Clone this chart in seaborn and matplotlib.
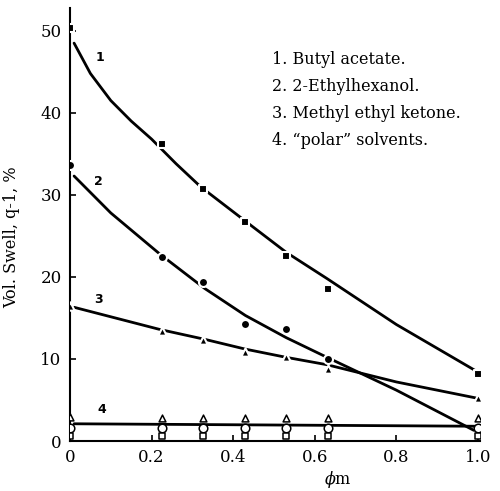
import numpy as np
import pandas as pd
import seaborn as sns
import matplotlib.pyplot as plt

# measured points (phi_m, swell %)
phi = [0, 0.225, 0.325, 0.43, 0.53, 0.633, 1.0]
butyl = [50.3, 36.2, 30.7, 26.7, 22.6, 18.5, 8.2]
phi_eh = [0, 0.225, 0.325, 0.43, 0.53, 0.633]
ethylhex = [33.6, 22.4, 19.4, 14.3, 13.7, 10.0]
mek = [16.5, 13.4, 12.3, 10.9, 10.3, 8.8, 5.3]
polar_tri = [2.9, 2.8, 2.8, 2.8, 2.8, 2.8, 2.8]
polar_circ = [1.6, 1.6, 1.6, 1.6, 1.6, 1.6, 1.6]
polar_sq = [0.6, 0.6, 0.6, 0.6, 0.6, 0.6, 0.6]

# drawn curves
fit1_x = [0.01, 0.05, 0.1, 0.15, 0.2, 0.26, 0.32, 0.43, 0.53, 0.63, 0.8, 1.0]
fit1_y = [48.5, 44.8, 41.5, 39.0, 36.8, 33.8, 31.0, 26.8, 23.0, 19.8, 14.2, 8.4]
fit2_x = [0.01, 0.1, 0.22, 0.33, 0.43, 0.53, 0.63, 0.8, 0.99]
fit2_y = [32.3, 27.8, 22.8, 18.6, 15.3, 12.6, 10.2, 6.2, 1.3]
fit3_x = [0.01, 0.22, 0.33, 0.43, 0.53, 0.63, 0.8, 1.0]
fit3_y = [16.3, 13.6, 12.4, 11.2, 10.2, 9.3, 7.2, 5.2]
fit4_x = [0.01, 1.0]
fit4_y = [2.1, 1.8]

legend_lines = ["1. Butyl acetate.", "2. 2-Ethylhexanol.",
                "3. Methyl ethyl ketone.", "4. \u201cpolar\u201d solvents."]

sns.set_style("ticks", {"text.color": "black", "axes.labelcolor": "black",
                        "xtick.color": "black", "ytick.color": "black",
                        "axes.edgecolor": "black"})
plt.rcParams['font.family'] = ['DejaVu Serif']
plt.rcParams['mathtext.fontset'] = 'dejavuserif'

fig = plt.figure(figsize=(5, 4.91), dpi=100)
ax = fig.add_axes([0.14, 0.1018, 0.82, 0.8822])

for fx, fy in [(fit1_x, fit1_y), (fit2_x, fit2_y), (fit3_x, fit3_y), (fit4_x, fit4_y)]:
    sns.lineplot(x=fx, y=fy, ax=ax, color='black', lw=2, sort=False)

sns.scatterplot(x=phi, y=butyl, ax=ax, marker='s', color='black', s=36,
                edgecolor='white', linewidth=1.5, zorder=5)
sns.scatterplot(x=phi_eh, y=ethylhex, ax=ax, marker='o', color='black', s=42,
                edgecolor='white', linewidth=1.5, zorder=5)
sns.scatterplot(x=phi, y=mek, ax=ax, marker='^', color='black', s=36,
                edgecolor='white', linewidth=1.5, zorder=5)
sns.scatterplot(x=phi, y=polar_tri, ax=ax, marker='^', color='white', s=24,
                edgecolor='black', linewidth=1.1, zorder=5)
sns.scatterplot(x=phi, y=polar_circ, ax=ax, marker='o', color='white', s=38,
                edgecolor='black', linewidth=1.1, zorder=5)
sns.scatterplot(x=phi, y=polar_sq, ax=ax, marker='s', color='white', s=24,
                edgecolor='black', linewidth=1.1, zorder=5)

for lab, lx, ly in [("1", 0.074, 46.7), ("2", 0.07, 31.6), ("3", 0.07, 17.2), ("4", 0.078, 3.8)]:
    ax.text(lx, ly, lab, fontsize=9, fontweight='bold', family='DejaVu Sans',
            ha='center', va='center')

for i, t in enumerate(legend_lines):
    ax.text(0.493, 0.88 - i * 0.0623, t, transform=ax.transAxes,
            fontsize=11.5, ha='left', va='center')

ax.set_xlim(0, 1.005)
ax.set_ylim(0, 52.8)
ax.set_xticks([0, 0.2, 0.4, 0.6, 0.8, 1.0])
ax.set_xticklabels(["0", "0.2", "0.4", "0.6", "0.8", "1.0"])
ax.set_yticks([0, 10, 20, 30, 40, 50])
ax.tick_params(direction='in', length=4, width=1.2, labelsize=12, pad=6)
sns.despine(ax=ax)
for sp in ['left', 'bottom']:
    ax.spines[sp].set_linewidth(1.5)

ax.set_ylabel("Vol. Swell, q-1, %", fontsize=11.5)
ax.yaxis.set_label_coords(-0.122, 0.47)
ax.set_xlabel(r"$\phi$m", fontsize=11.5)
ax.xaxis.set_label_coords(0.654, -0.064)

plt.savefig("out.png", dpi=100)
